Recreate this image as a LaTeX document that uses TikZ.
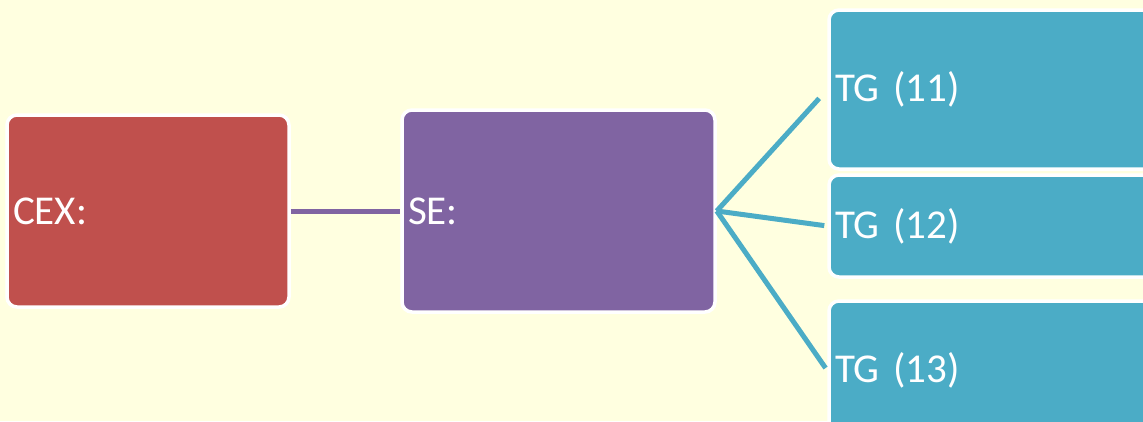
\documentclass[tikz,border=0pt]{standalone}
\usepackage{fontspec}
\setmainfont{Carlito}
\usetikzlibrary{positioning}

\definecolor{bgyellow}{RGB}{255,255,224}
\definecolor{cexred}{RGB}{192,80,77}
\definecolor{sepurple}{RGB}{128,100,162}
\definecolor{tgteal}{RGB}{75,172,198}

\begin{document}
\begin{tikzpicture}[x=1pt, y=-1pt,
    box/.style={rectangle, rounded corners=10pt, draw=white, line width=3.5pt,
        text=white, inner xsep=6pt, inner ysep=0pt, align=left,
        font=\fontsize{41}{49}\selectfont},
    link/.style={line width=5pt}]

    % Page and background
    \clip (0,0) rectangle (1143,421);
    \fill[bgyellow] (0,0) rectangle (1143,421);

    % Boxes
    \node[box, fill=cexred, text width=270pt, minimum height=192pt] (cex) at (148,211) {CEX:};
    \node[box, fill=sepurple, text width=301pt, minimum height=202pt] (se) at (558.5,211) {SE:};
    \node[box, fill=tgteal, text width=328pt, minimum height=159pt] (tg11) at (999,89.5) {TG (11)};
    \node[box, fill=tgteal, text width=328pt, minimum height=102pt] (tg12) at (999,226) {TG (12)};
    \node[box, fill=tgteal, text width=328pt, minimum height=139pt] (tg13) at (999,370.5) {TG (13)};

    % Connectors
    \draw[link, sepurple] (cex.east) -- (se.west);
    \draw[link, tgteal, shorten >=12pt] (se.east) -- (tg11.west);
    \draw[link, tgteal, shorten >=3pt] (se.east) -- (tg12.west);
    \draw[link, tgteal, shorten >=3pt] (se.east) -- (tg13.west);
\end{tikzpicture}
\end{document}
